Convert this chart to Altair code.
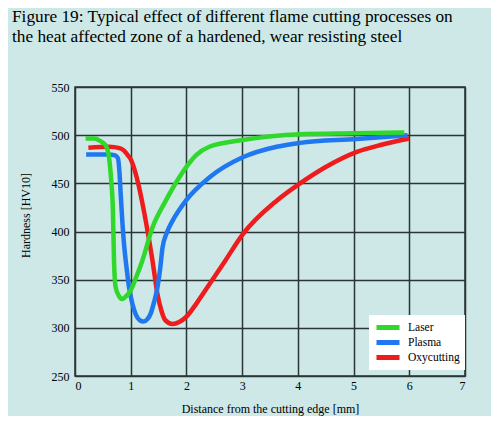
import altair as alt
import pandas as pd

laser_x = [0.19, 0.35, 0.45, 0.55, 0.61, 0.65, 0.68, 0.70, 0.73, 0.79, 0.84, 0.92, 1.0, 1.1, 1.21, 1.39, 1.63, 1.87, 2.05, 2.17, 2.41, 3.01, 4.04, 5.0, 5.91]
laser_y = [496.5, 496.5, 494, 489.5, 477, 453, 422, 370, 342, 333, 330, 333, 339, 353, 370, 404, 432, 456, 471, 479, 488, 495, 501, 502, 502.8]

plasma_x = [0.2, 0.6, 0.72, 0.77, 0.80, 0.82, 0.85, 0.88, 0.93, 0.97, 1.03, 1.09, 1.16, 1.23, 1.30, 1.36, 1.42, 1.48, 1.53, 1.57, 1.65, 1.75, 1.99, 2.41, 3.01, 3.62, 4.04, 5.06, 5.97]
plasma_y = [480, 480, 479, 476, 460, 439, 410, 387, 360, 342, 325, 314, 308, 306.5, 309, 315, 327, 342, 362, 383, 399, 411, 432, 456, 477, 488, 492, 496, 500]

oxy_x = [0.24, 0.61, 0.80, 0.88, 0.95, 1.0, 1.08, 1.15, 1.27, 1.39, 1.48, 1.55, 1.62, 1.75, 1.87, 1.99, 2.2, 2.41, 2.7, 3.01, 3.62, 4.04, 4.5, 5.06, 5.5, 6.0]
oxy_y = [487, 488, 486.5, 484, 479, 475, 462, 446, 411, 370, 335, 318, 308, 304, 306, 311, 327, 345, 370, 397, 432, 450, 467, 482.7, 490, 496.5]

series = ["Laser", "Plasma", "Oxycutting"]
colors = ["#2fd82a", "#1f78f0", "#ee1c1c"]

title_lines = ["Figure 19: Typical effect of different flame cutting processes on",
               "the heat affected zone of a hardened, wear resisting steel"]

rows = []
for name, xs, ys, order in [("Oxycutting", oxy_x, oxy_y, 0), ("Plasma", plasma_x, plasma_y, 1), ("Laser", laser_x, laser_y, 2)]:
    for xv, yv in zip(xs, ys):
        rows.append({"process": name, "x": xv, "y": yv, "ord": order})
df = pd.DataFrame(rows)

serif = "Liberation Serif"

chart = alt.Chart(df).mark_line(strokeWidth=4.5, interpolate="monotone", strokeCap="butt").encode(
    x=alt.X("x:Q", scale=alt.Scale(domain=[0, 7], nice=False),
            axis=alt.Axis(values=list(range(8)), title="Distance from the cutting edge [mm]",
                          titleY=32, titleBaseline="middle", labelPadding=4)),
    y=alt.Y("y:Q", scale=alt.Scale(domain=[250, 550], nice=False, zero=False),
            axis=alt.Axis(values=list(range(250, 551, 50)), title="Hardness  [HV10]",
                          labelPadding=6,
                          titleX=-50, titleY=128, titleAngle=-90, titleAlign="center", titleBaseline="middle")),
    color=alt.Color("process:N", scale=alt.Scale(domain=series, range=colors),
                    legend=alt.Legend(title=None, orient="none", legendX=294, legendY=228,
                                      symbolType="stroke", symbolSize=529, symbolStrokeWidth=5,
                                      clipHeight=15, rowPadding=0,
                                      fillColor="white", padding=5, labelOffset=6,
                                      labelFont=serif, labelFontSize=11.5, labelColor="black")),
    order=alt.Order("ord:Q"),
    detail="process:N",
).properties(
    width=390, height=289,
    title=alt.TitleParams(text=title_lines, anchor="start", frame="group", font=serif, fontSize=17.3,
                          fontWeight="normal", color="black", dx=-63, lineHeight=20, offset=36),
    autosize=alt.AutoSizeParams(type="none"),
    padding={"left": 67, "top": 79, "right": 26, "bottom": 40},
    background="#cde8e6",
).configure_view(
    stroke="#2a3535", strokeWidth=1.5, fill="#cde8e6"
).configure_axis(
    grid=True, gridColor="#2a3535", gridWidth=1.5, gridOpacity=1,
    domain=False, ticks=False,
    labelFont=serif, labelFontSize=12, labelColor="black",
    titleFont=serif, titleFontSize=12, titleColor="black", titleFontWeight="normal",
)

chart.save("out.html", embed_options={"renderer": "svg", "actions": False})
